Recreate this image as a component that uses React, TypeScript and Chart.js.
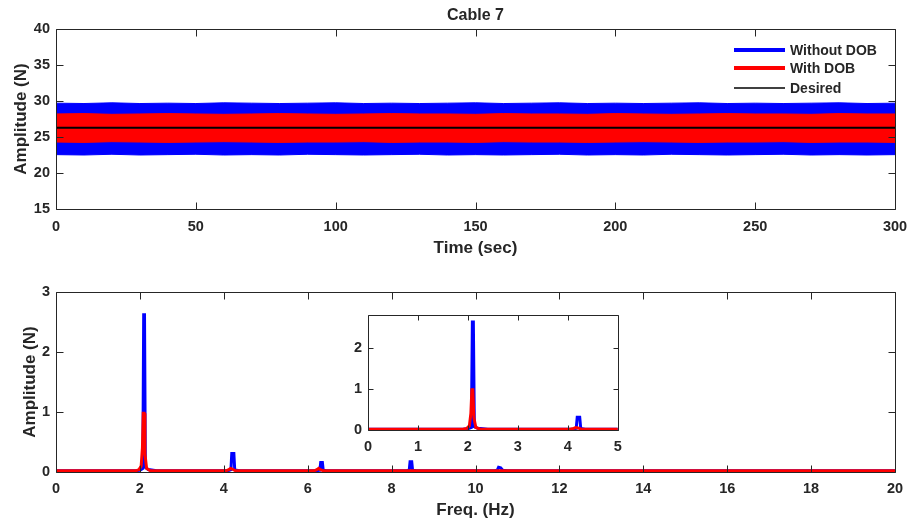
import React, { useEffect, useRef } from "react";
import { Chart, registerables } from "chart.js";
Chart.register(...registerables);

// ---------- data ----------
const chartTitle = "Cable 7";
const timeAxisLabel = "Time (sec)";
const freqAxisLabel = "Freq. (Hz)";
const ampAxisLabel = "Amplitude (N)";
const legendLabels = ["Without DOB", "With DOB", "Desired"];

const timeSec = [0, 10, 20, 30, 40, 50, 60, 70, 80, 90, 100, 110, 120, 130, 140, 150, 160, 170, 180, 190, 200, 210, 220, 230, 240, 250, 260, 270, 280, 290, 300];
const withoutDobUpper = [29.7, 29.65, 29.75, 29.65, 29.7, 29.65, 29.75, 29.7, 29.65, 29.7, 29.75, 29.65, 29.7, 29.65, 29.7, 29.75, 29.65, 29.7, 29.75, 29.65, 29.7, 29.65, 29.7, 29.75, 29.65, 29.7, 29.65, 29.7, 29.75, 29.65, 29.7];
const withoutDobLower = [22.55, 22.5, 22.6, 22.5, 22.55, 22.6, 22.5, 22.55, 22.5, 22.6, 22.55, 22.5, 22.55, 22.6, 22.5, 22.55, 22.5, 22.55, 22.6, 22.5, 22.55, 22.5, 22.6, 22.55, 22.5, 22.55, 22.6, 22.5, 22.55, 22.5, 22.55];
const withDobUpper = [28.2, 28.25, 28.15, 28.2, 28.25, 28.2, 28.15, 28.2, 28.25, 28.2, 28.15, 28.2, 28.25, 28.2, 28.2, 28.15, 28.25, 28.2, 28.2, 28.15, 28.25, 28.2, 28.15, 28.2, 28.25, 28.2, 28.2, 28.15, 28.25, 28.2, 28.2];
const withDobLower = [24.3, 24.25, 24.35, 24.3, 24.25, 24.3, 24.35, 24.3, 24.25, 24.3, 24.3, 24.35, 24.25, 24.3, 24.3, 24.25, 24.35, 24.3, 24.3, 24.25, 24.3, 24.35, 24.3, 24.25, 24.3, 24.3, 24.35, 24.25, 24.3, 24.3, 24.25];
const desiredTime = [0, 300];
const desiredValue = [26.3, 26.3];

const specBlueFreq = [0, 1.9, 2.0, 2.07, 2.09, 2.11, 2.13, 2.2, 2.4, 4.1, 4.17, 4.19, 4.24, 4.26, 4.35, 6.2, 6.29, 6.31, 6.35, 6.37, 6.45, 8.35, 8.42, 8.44, 8.48, 8.5, 8.6, 10.45, 10.52, 10.55, 10.6, 10.65, 10.75, 20];
const specBlueAmp = [0.02, 0.02, 0.03, 0.06, 2.62, 2.62, 0.08, 0.04, 0.02, 0.02, 0.04, 0.31, 0.31, 0.04, 0.02, 0.02, 0.03, 0.16, 0.16, 0.03, 0.02, 0.02, 0.03, 0.17, 0.17, 0.03, 0.02, 0.02, 0.03, 0.08, 0.07, 0.03, 0.02, 0.02];
const specRedFreq = [0, 1.9, 1.98, 2.03, 2.06, 2.08, 2.1, 2.12, 2.16, 2.25, 4.05, 4.12, 4.16, 4.2, 4.28, 6.15, 6.22, 6.26, 6.3, 6.38, 20];
const specRedAmp = [0.02, 0.02, 0.04, 0.1, 0.4, 0.98, 0.98, 0.3, 0.06, 0.02, 0.02, 0.04, 0.06, 0.05, 0.02, 0.02, 0.04, 0.06, 0.04, 0.02, 0.02];

// ---------- styles ----------
const FONT = "'Liberation Sans', Arial, Helvetica, sans-serif";
const AXIS_COLOR = "#262626";
const BLUE = "#0000ff";
const RED = "#ff0000";

const zip = (xs: number[], ys: number[]) => xs.map((x, i) => ({ x, y: ys[i] }));

function framePlugin(tickLen: number) {
  return {
    id: "frame",
    afterDatasetsDraw(chart: any) {
      const { ctx, chartArea } = chart;
      const l = Math.round(chartArea.left) + 0.5;
      const r = Math.round(chartArea.right) + 0.5;
      const t = Math.round(chartArea.top) + 0.5;
      const b = Math.round(chartArea.bottom) + 0.5;
      const xs = chart.scales.x;
      const ys = chart.scales.y;
      ctx.save();
      ctx.strokeStyle = AXIS_COLOR;
      ctx.lineWidth = 1;
      ctx.beginPath();
      ctx.rect(l, t, r - l, b - t);
      xs.ticks.forEach((tk: any) => {
        const p = Math.round(xs.getPixelForValue(tk.value)) + 0.5;
        ctx.moveTo(p, b);
        ctx.lineTo(p, b - tickLen);
        ctx.moveTo(p, t);
        ctx.lineTo(p, t + tickLen);
      });
      ys.ticks.forEach((tk: any) => {
        const p = Math.round(ys.getPixelForValue(tk.value)) + 0.5;
        ctx.moveTo(l, p);
        ctx.lineTo(l + tickLen, p);
        ctx.moveTo(r, p);
        ctx.lineTo(r - tickLen, p);
      });
      ctx.stroke();
      ctx.restore();
    },
  };
}

const whiteAreaPlugin = {
  id: "whiteArea",
  beforeDraw(chart: any) {
    const { ctx, chartArea } = chart;
    ctx.save();
    ctx.fillStyle = "#ffffff";
    ctx.fillRect(chartArea.left, chartArea.top, chartArea.right - chartArea.left, chartArea.bottom - chartArea.top);
    ctx.restore();
  },
};

const titleLegendPlugin = {
  id: "titleLegend",
  afterDraw(chart: any) {
    const { ctx, chartArea } = chart;
    ctx.save();
    ctx.fillStyle = AXIS_COLOR;
    ctx.font = `bold 16px ${FONT}`;
    ctx.textAlign = "center";
    ctx.textBaseline = "middle";
    ctx.fillText(chartTitle, (chartArea.left + chartArea.right) / 2, 16);

    const colors = [BLUE, RED, "#000000"];
    const widths = [4, 4, 1.5];
    const rows = [21, 39, 59];
    const x0 = chartArea.right - 161;
    const x1 = chartArea.right - 110;
    const tx = chartArea.right - 105;
    ctx.font = `bold 14px ${FONT}`;
    ctx.textAlign = "left";
    legendLabels.forEach((lab, i) => {
      const y = chartArea.top + rows[i];
      ctx.beginPath();
      ctx.strokeStyle = colors[i];
      ctx.lineWidth = widths[i];
      ctx.moveTo(x0, y);
      ctx.lineTo(x1, y);
      ctx.stroke();
      ctx.fillStyle = AXIS_COLOR;
      ctx.fillText(lab, tx, y + 1);
    });
    ctx.restore();
  },
};

function axisCommon(opts: any) {
  return {
    type: "linear",
    min: opts.min,
    max: opts.max,
    grid: { display: false, drawTicks: false },
    border: { display: false },
    ticks: {
      stepSize: opts.step,
      padding: opts.padding,
      color: AXIS_COLOR,
      font: { family: FONT, size: 14.5, weight: "bold" },
      maxRotation: 0,
      autoSkip: false,
      includeBounds: false,
    },
    title: opts.title
      ? {
          display: true,
          text: opts.title,
          color: AXIS_COLOR,
          font: { family: FONT, size: 17, weight: "bold" },
          padding: opts.titlePadding,
        }
      : { display: false },
    afterFit: opts.fit,
  };
}

function specDatasets() {
  return [
    {
      label: legendLabels[1],
      data: zip(specRedFreq, specRedAmp),
      borderColor: RED,
      borderWidth: 3,
      pointRadius: 0,
      fill: false,
      tension: 0,
      order: 1,
    },
    {
      label: legendLabels[0],
      data: zip(specBlueFreq, specBlueAmp),
      borderColor: BLUE,
      borderWidth: 3,
      pointRadius: 0,
      fill: false,
      tension: 0,
      order: 2,
    },
  ];
}

export default function App() {
  const topRef = useRef<HTMLCanvasElement>(null);
  const botRef = useRef<HTMLCanvasElement>(null);
  const insetRef = useRef<HTMLCanvasElement>(null);

  useEffect(() => {
    const common = {
      responsive: false,
      animation: false as const,
      plugins: { legend: { display: false }, tooltip: { enabled: false }, title: { display: false } },
      elements: { line: { borderJoinStyle: "miter" } },
    };

    const top = new Chart(topRef.current!, {
      type: "line",
      data: {
        datasets: [
          { label: "wu", data: zip(timeSec, withoutDobUpper), borderColor: BLUE, backgroundColor: BLUE, borderWidth: 1, pointRadius: 0, fill: "+1", order: 3 },
          { label: "wl", data: zip(timeSec, withoutDobLower), borderColor: BLUE, borderWidth: 1, pointRadius: 0, fill: false, order: 3 },
          { label: "du", data: zip(timeSec, withDobUpper), borderColor: RED, backgroundColor: RED, borderWidth: 1, pointRadius: 0, fill: "+1", order: 2 },
          { label: "dl", data: zip(timeSec, withDobLower), borderColor: RED, borderWidth: 1, pointRadius: 0, fill: false, order: 2 },
          { label: legendLabels[2], data: zip(desiredTime, desiredValue), borderColor: "#000000", borderWidth: 2, pointRadius: 0, fill: false, order: 1 },
        ],
      },
      options: {
        ...common,
        layout: { padding: { left: 0, right: 27, top: 29, bottom: 0 } },
        scales: {
          x: axisCommon({ min: 0, max: 300, step: 50, padding: 8.8, title: timeAxisLabel, titlePadding: { top: 0, bottom: 1.8 }, fit: (s: any) => { s.height = 51; } }),
          y: axisCommon({ min: 15, max: 40, step: 5, padding: 6, title: ampAxisLabel, titlePadding: { top: 10.8, bottom: 0 }, fit: (s: any) => { s.width = 56; } }),
        },
      } as any,
      plugins: [framePlugin(7), titleLegendPlugin],
    } as any);

    const bot = new Chart(botRef.current!, {
      type: "line",
      data: { datasets: specDatasets() as any },
      options: {
        ...common,
        layout: { padding: { left: 0, right: 27, top: 32, bottom: 0 } },
        scales: {
          x: axisCommon({ min: 0, max: 20, step: 2, padding: 8.3, title: freqAxisLabel, titlePadding: { top: 0, bottom: 0.8 }, fit: (s: any) => { s.height = 49; } }),
          y: axisCommon({ min: 0, max: 3, step: 1, padding: 6, title: ampAxisLabel, titlePadding: { top: 19.8, bottom: 0 }, fit: (s: any) => { s.width = 56; } }),
        },
      } as any,
      plugins: [framePlugin(7)],
    } as any);

    const inset = new Chart(insetRef.current!, {
      type: "line",
      data: { datasets: specDatasets() as any },
      options: {
        ...common,
        layout: { padding: { left: 0, right: 12, top: 8, bottom: 0 } },
        scales: {
          x: axisCommon({ min: 0, max: 5, step: 1, padding: 8.3, fit: (s: any) => { s.height = 30; } }),
          y: axisCommon({ min: 0, max: 2.8, step: 1, padding: 6, fit: (s: any) => { s.width = 38; } }),
        },
      } as any,
      plugins: [whiteAreaPlugin, framePlugin(5)],
    } as any);

    return () => {
      top.destroy();
      bot.destroy();
      inset.destroy();
    };
  }, []);

  return (
    <div style={{ position: "absolute", left: 0, top: 0, width: 922, height: 521, background: "#ffffff" }}>
      <canvas ref={topRef} width={922} height={260} style={{ position: "absolute", left: 0, top: 0, display: "block" }} />
      <canvas ref={botRef} width={922} height={261} style={{ position: "absolute", left: 0, top: 260, display: "block" }} />
      <canvas ref={insetRef} width={300} height={160} style={{ position: "absolute", left: 330, top: 300, display: "block" }} />
    </div>
  );
}
